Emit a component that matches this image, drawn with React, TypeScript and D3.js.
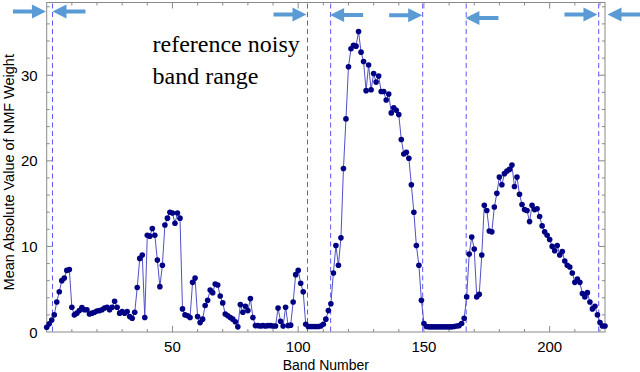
import React, { useEffect, useRef } from 'react'
import { select, scaleLinear, range, line } from 'd3'

// mean |NMF weight| per band, bands 0..222
const meanWeight = [
  0.55, 0.95, 1.4, 2.0, 3.5, 4.7, 6.0, 6.3, 7.2, 7.3,
  2.9, 2.0, 2.2, 2.5, 2.85, 2.6, 2.6, 2.1, 2.2, 2.3,
  2.45, 2.5, 2.6, 2.8, 2.9, 2.6, 2.9, 3.6, 2.9, 2.2,
  2.4, 2.2, 2.4, 1.8, 1.6, 2.3, 5.2, 8.6, 9.0, 1.7,
  11.3, 11.2, 12.1, 11.3, 8.4, 5.3, 7.8, 12.5, 13.3, 14.0,
  13.9, 12.7, 13.9, 13.3, 2.7, 2.0, 1.9, 1.7, 5.8, 6.3,
  1.8, 1.1, 1.5, 3.1, 3.7, 4.9, 4.6, 5.6, 5.5, 4.2,
  3.4, 2.1, 1.9, 1.7, 1.5, 1.2, 0.6, 3.2, 2.3, 3.0,
  2.5, 3.9, 1.7, 0.75, 0.75, 0.7, 0.75, 0.7, 0.75, 0.75,
  0.7, 0.7, 2.8, 1.25, 0.7, 2.9, 0.75, 0.8, 3.5, 6.7,
  7.2, 5.7, 4.7, 0.9, 0.65, 0.65, 0.65, 0.65, 0.65, 0.7,
  0.9, 1.5, 2.5, 3.3, 6.9, 10.1, 7.8, 11.0, 19.1, 24.9,
  31.0, 33.1, 33.5, 33.4, 35.1, 32.7, 31.6, 28.2, 31.2, 28.3,
  30.2, 29.2, 29.9, 28.1, 28.1, 27.1, 27.8, 25.6, 26.2, 25.9,
  25.4, 22.5, 20.8, 21.0, 20.3, 17.2, 14.0, 10.1, 7.8, 3.7,
  1.0, 0.65, 0.6, 0.6, 0.6, 0.6, 0.6, 0.6, 0.6, 0.6,
  0.6, 0.6, 0.65, 0.7, 0.75, 1.0, 1.6, 4.1, 9.1, 11.1,
  9.7, 4.1, 4.4, 9.0, 14.8, 14.2, 11.8, 11.7, 14.6, 16.2,
  18.1, 17.2, 18.5, 18.8, 19.0, 19.5, 17.0, 18.1, 16.1, 14.9,
  14.3, 14.2, 12.9, 14.8, 14.3, 14.4, 13.5, 12.4, 11.7, 11.3,
  10.8, 10.0, 9.5, 10.1, 9.0, 9.4, 8.3, 7.8, 7.6, 6.9,
  5.8, 6.2, 5.8, 4.5, 4.1, 4.6, 3.5, 2.7, 3.0, 2.0,
  1.1, 0.7, 0.7,
]

const noisyEdges = [2.3, 103.7, 112.9, 149.5, 166.8, 219.5]

// arrows marking the noisy band ranges: tip band, direction, height
const arrowTips = [-0.3, 2.3, 103.3, 112.7, 149.3, 166.5, 219.0, 223.0]
const arrowDirs = [1, -1, 1, -1, 1, -1, 1, -1]
const arrowLevels = [37.45, 37.45, 37.1, 37.05, 37.0, 36.7, 37.1, 37.1]

const xTicks = [50, 100, 150, 200]
const yTicks = [0, 10, 20, 30]

const W = 640
const H = 372
const margin = { top: 2.5, right: 35, bottom: 40, left: 46.7 }

const App = () => {
  const svgRef = useRef<SVGSVGElement>(null)

  useEffect(() => {
    document.body.style.margin = '0'
    const svg = select(svgRef.current)
    svg.selectAll('*').remove()

    const x0 = margin.left
    const x1 = W - margin.right
    const y0 = H - margin.bottom
    const y1 = margin.top

    const xScale = scaleLinear().domain([0, 222]).range([x0, x1])
    const yScale = scaleLinear().domain([0, 38.5]).range([y0, y1])

    const axisColor = '#8a8a8a'
    const sans = '"Liberation Sans", Arial, Helvetica, sans-serif'

    // frame
    svg.append('rect')
      .attr('x', x0).attr('y', y1)
      .attr('width', x1 - x0).attr('height', y0 - y1)
      .attr('fill', 'none').attr('stroke', axisColor).attr('stroke-width', 1)

    // ticks on all four sides
    const xMinor = range(10, 221, 10)
    const yMinor = range(2, 38.5, 2)
    const ticks = svg.append('g').attr('stroke', axisColor).attr('stroke-width', 1)
    xMinor.forEach(t => {
      const len = t % 50 === 0 ? 6 : 3
      ticks.append('line').attr('x1', xScale(t)).attr('x2', xScale(t)).attr('y1', y0).attr('y2', y0 - len)
      ticks.append('line').attr('x1', xScale(t)).attr('x2', xScale(t)).attr('y1', y1).attr('y2', y1 + len)
    })
    yMinor.forEach(t => {
      const len = t % 10 === 0 ? 6 : 3
      ticks.append('line').attr('y1', yScale(t)).attr('y2', yScale(t)).attr('x1', x0).attr('x2', x0 + len)
      ticks.append('line').attr('y1', yScale(t)).attr('y2', yScale(t)).attr('x1', x1).attr('x2', x1 - len)
    })

    svg.append('g')
      .selectAll('text')
      .data(xTicks)
      .join('text')
      .attr('x', d => xScale(d))
      .attr('y', y0 + 19.5)
      .attr('text-anchor', 'middle')
      .attr('font-family', sans)
      .attr('font-size', 15)
      .text(d => d)

    svg.append('g')
      .selectAll('text')
      .data(yTicks)
      .join('text')
      .attr('x', x0 - 9)
      .attr('y', d => yScale(d) + 5.5)
      .attr('text-anchor', 'end')
      .attr('font-family', sans)
      .attr('font-size', 15)
      .text(d => d)

    svg.append('text')
      .attr('x', (x0 + x1) / 2)
      .attr('y', H - 2.5)
      .attr('text-anchor', 'middle')
      .attr('font-family', sans)
      .attr('font-size', 14)
      .text('Band Number')

    svg.append('text')
      .attr('transform', `translate(14, ${(y0 + y1) / 2 + 5}) rotate(-90)`)
      .attr('text-anchor', 'middle')
      .attr('font-family', sans)
      .attr('font-size', 14.5)
      .text('Mean Absolute Value of NMF Weight')

    // noisy band boundaries
    svg.append('g')
      .selectAll('line')
      .data(noisyEdges)
      .join('line')
      .attr('x1', d => xScale(d)).attr('x2', d => xScale(d))
      .attr('y1', y1 + 1).attr('y2', y0)
      .attr('stroke', '#5a5af5')
      .attr('stroke-width', 1)
      .attr('stroke-dasharray', '5,3.5')

    // series
    const lineGen = line<number>()
      .x((d, i) => xScale(i))
      .y(d => yScale(d))

    svg.append('path')
      .datum(meanWeight)
      .attr('d', lineGen)
      .attr('fill', 'none')
      .attr('stroke', '#5050c8')
      .attr('stroke-width', 1)

    svg.append('g')
      .selectAll('circle')
      .data(meanWeight)
      .join('circle')
      .attr('cx', (d, i) => xScale(i))
      .attr('cy', d => yScale(d))
      .attr('r', 2.8)
      .attr('fill', '#000085')

    // arrows
    const arrowLen = 33
    const headLen = 14
    const headHalf = 7
    const shaftHalf = 2
    svg.append('g')
      .selectAll('path')
      .data(arrowTips.map((t, i) => ({ t, dir: arrowDirs[i], lvl: arrowLevels[i] })))
      .join('path')
      .attr('d', a => {
        const tx = xScale(a.t)
        const ty = yScale(a.lvl)
        const s = a.dir
        const tail = tx - s * arrowLen
        const base = tx - s * headLen
        return `M${tail},${ty - shaftHalf} L${base},${ty - shaftHalf} L${base},${ty - headHalf} L${tx},${ty} ` +
          `L${base},${ty + headHalf} L${base},${ty + shaftHalf} L${tail},${ty + shaftHalf} Z`
      })
      .attr('fill', '#5b9bd5')

    const serif = '"Liberation Serif", "Times New Roman", serif'
    svg.append('text')
      .attr('x', 152.5).attr('y', 51.5)
      .attr('font-family', serif).attr('font-size', 24)
      .text('reference noisy')
    svg.append('text')
      .attr('x', 152.5).attr('y', 83.5)
      .attr('font-family', serif).attr('font-size', 24)
      .text('band range')
  }, [])

  return (
    <svg ref={svgRef} width={W} height={H} style={{ display: 'block', background: '#fff' }} />
  )
}

export default App
